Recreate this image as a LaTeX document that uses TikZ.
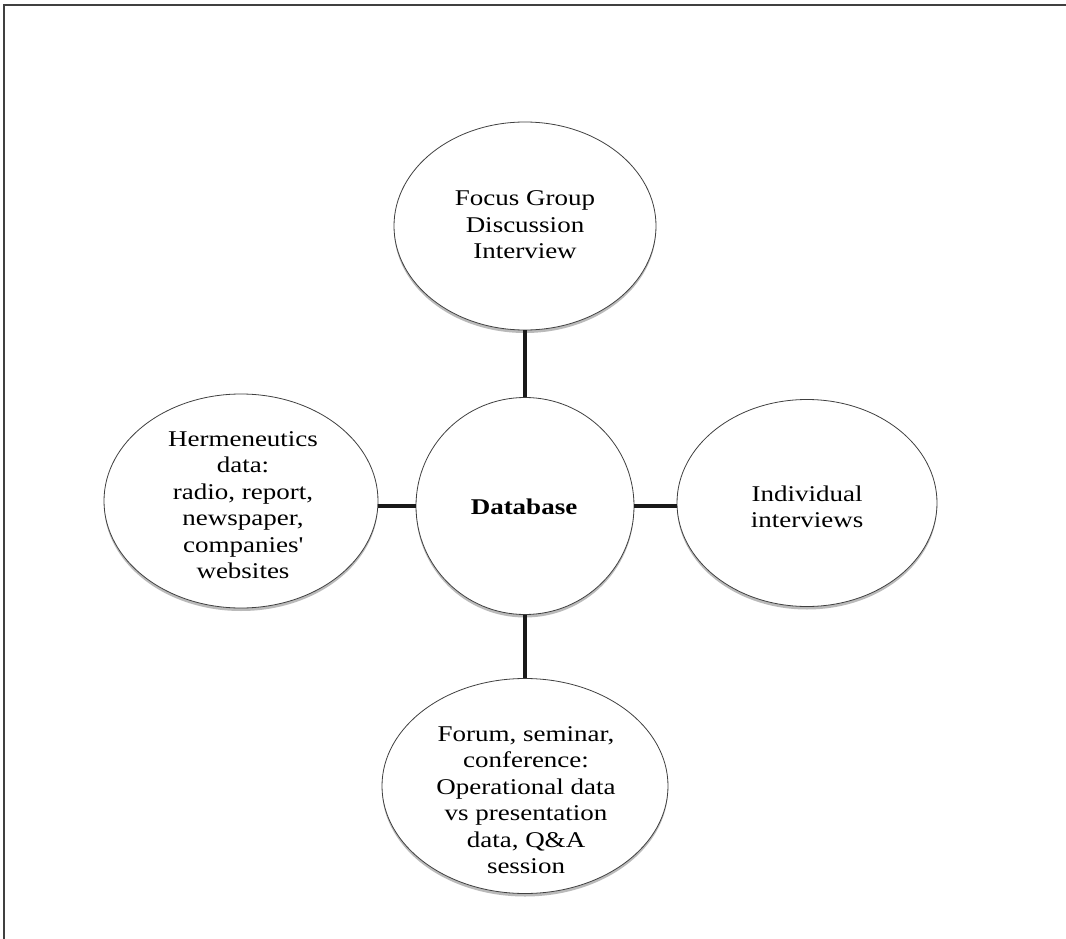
\documentclass[tikz,border=0pt]{standalone}
\usepackage{fontspec}
\setmainfont{Liberation Serif}[FakeStretch=1.2]
\usetikzlibrary{shapes.geometric,shadows}
\begin{document}
\begin{tikzpicture}[x=1pt,y=-1pt,
  bubble/.style={ellipse, draw=black!75, line width=0.8pt, fill=white, inner sep=0pt,
    drop shadow={shadow xshift=0pt, shadow yshift=-3pt, opacity=0.45, fill=black!60}},
  bubbletext/.style={align=center, inner sep=0pt,
    font=\fontsize{22.5}{26.5}\selectfont},
  link/.style={line width=3.5pt, draw=black!90},
  frameline/.style={line width=1.5pt, draw=black!75}]
\useasboundingbox (0,0) rectangle (1066,939);
\fill[white] (0,0) rectangle (1066,939);

% open frame: top edge and left edge only
\draw[frameline] (1066,5) -- (4,5) -- (4,939);

% the five bubbles
\node[bubble, minimum width=262pt, minimum height=208pt] (fg) at (525,226) {};
\node[bubble, minimum width=218pt, minimum height=217pt] (db) at (525,506) {};
\node[bubble, minimum width=274pt, minimum height=214pt] (hm) at (241,501) {};
\node[bubble, minimum width=260pt, minimum height=207pt] (iv) at (807,503) {};
\node[bubble, minimum width=286pt, minimum height=215pt] (fr) at (525,786) {};

% their texts
\node[bubbletext] (fg-t) at (525,225) {Focus Group\\Discussion\\Interview};
\node[bubbletext, font=\fontsize{22.5}{26.5}\selectfont\bfseries] (db-t) at (524,507) {Database};
\node[bubbletext] (hm-t) at (243,505) {Hermeneutics\\data:\\radio, report,\\newspaper,\\companies\textquotesingle\\websites};
\node[bubbletext] (iv-t) at (807,507) {Individual\\interviews};
\node[bubbletext] (fr-t) at (526,800) {Forum, seminar,\\conference:\\Operational data\\vs presentation\\data, Q\&A\\session};

% spokes from the hub
\draw[link] (fg.south) -- (db.north);
\draw[link] (db.west) -- (db.west -| hm.east);
\draw[link] (db.east) -- (db.east -| iv.west);
\draw[link] (db.south) -- (fr.north);
\end{tikzpicture}
\end{document}
